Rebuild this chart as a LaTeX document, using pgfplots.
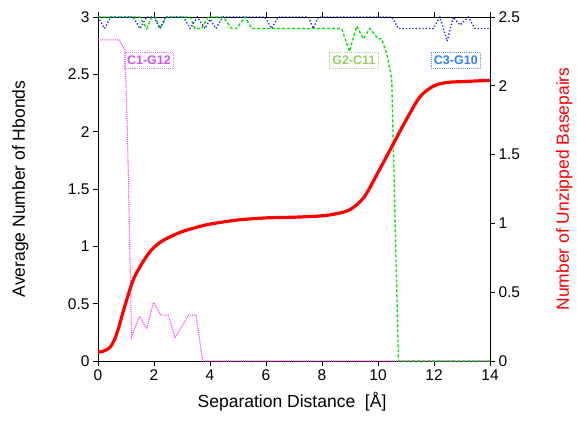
\documentclass[border=0pt]{standalone}
\usepackage{pgfplots}
\pgfplotsset{compat=1.18}
\usepackage{fontspec}
\setmainfont{Liberation Sans}
\usetikzlibrary{calc}

\definecolor{cmag}{HTML}{FF40FF}
\definecolor{cgreen}{HTML}{00E000}
\definecolor{cblue}{HTML}{1020E8}
\definecolor{cred}{HTML}{FF0000}
\definecolor{lmag}{HTML}{CC55EE}
\definecolor{lgreen}{HTML}{99CC66}
\definecolor{lblue}{HTML}{3380F0}

\pgfplotsset{
  common/.style={
    scale only axis, width=392pt, height=344pt,
    xmin=0, xmax=14,
    tick align=outside, major tick length=5pt,
    /pgf/number format/assume math mode=true,
    ticklabel style={font=\fontsize{15.5}{17}\selectfont},
    label style={font=\fontsize{17.5}{20}\selectfont},
    axis line style={line width=0.8pt}, tick style={line width=0.8pt, black},
    clip=false,
  },
}
\tikzset{
  tag/.style={draw=#1!80, densely dotted, line width=0.9pt, text=#1,
    inner xsep=3pt, inner ysep=3.5pt, font=\fontsize{12.5}{14}\selectfont\bfseries},
}

\begin{document}
\begin{tikzpicture}
\begin{axis}[common, name=main,
    ymin=0, ymax=3,
    xtick={0,2,...,14}, ytick={0,0.5,...,3},
    yticklabels={0,0.5,1,1.5,2,2.5,3},
    ytick pos=left,
    xlabel={Separation Distance\ \ [Å]},
    ylabel={Average Number of Hbonds},
    xlabel style={at={(axis description cs:0.495,-0.08)}, anchor=north},
    ylabel style={at={(axis description cs:-0.168,0.5)}, anchor=south, rotate=0},
]
% C1-G12
\addplot[cmag, line width=1.1pt, densely dotted] coordinates {
(0,2.8) (0.76,2.8) (0.96,2.71) (1.05,2.0) (1.2,0.21) (1.48,0.39) (1.74,0.28)
(1.98,0.51) (2.24,0.40) (2.51,0.40) (2.75,0.20) (3.23,0.40) (3.5,0.40)
(3.74,0) (14,0)};
% G2-C11
\addplot[cgreen, line width=1.3pt, densely dashed] coordinates {
(0,3) (1.5,3) (1.74,2.9) (1.92,3) (2.04,3) (2.21,2.9) (2.45,3) (3.29,3)
(3.46,2.9) (3.7,2.9) (3.94,3) (4.48,3) (4.77,2.9) (4.95,2.9) (5.25,3)
(5.49,2.9) (8.7,2.9) (8.98,2.7) (9.24,2.92) (9.48,2.81) (9.71,2.9)
(10.01,2.81) (10.13,2.81) (10.31,2.68) (10.49,2.46) (10.73,0) (14,0)};
% C3-G10
\addplot[cblue, line width=1.3pt, dotted] coordinates {
(0,3) (0.23,2.9) (0.46,3) (1.26,3) (1.5,2.9) (1.74,3) (2.0,3) (2.21,2.9)
(2.42,3) (3.05,3) (3.29,2.9) (3.55,3) (3.82,2.9) (4.0,2.98) (4.21,2.9)
(4.45,3) (5.96,3) (6.2,2.9) (6.44,3) (7.51,3) (7.69,2.9) (7.87,3)
(10.49,3) (10.73,2.9) (11.98,2.9) (12.21,3) (12.47,2.79) (12.69,3)
(12.93,2.93) (13.23,3) (13.46,2.9) (14,2.9)};
\node[tag=lmag] at (axis cs:1.82,2.62) {C1-G12};
\node[tag=lgreen] at (axis cs:9.14,2.62) {G2-C11};
\node[tag=lblue] at (axis cs:12.78,2.62) {C3-G10};
\end{axis}
\begin{axis}[common,
    ymin=0, ymax=2.5,
    axis y line*=right, axis x line=none,
    ytick={0,0.5,...,2.5},
    yticklabels={0,0.5,1,1.5,2,2.5},
    ylabel={Number of Unzipped Basepairs},
    ylabel style={at={(axis description cs:1.16,0.5)}, anchor=north, rotate=0, text=cred},
]
\addplot[cred, line width=3.2pt, smooth] coordinates {
(0,0.065) (0.2,0.072) (0.43,0.10) (0.6,0.16) (0.75,0.25) (0.9,0.36) (1.14,0.52)
(1.3,0.61) (1.5,0.685) (1.7,0.75) (1.92,0.81) (2.2,0.86) (2.5,0.895) (3,0.94)
(3.5,0.97) (4,0.995) (5,1.025) (6,1.04) (7,1.045) (8,1.055) (8.5,1.07)
(9,1.10) (9.5,1.19) (10,1.37) (10.5,1.56) (11,1.75) (11.5,1.92) (12,2.0)
(12.5,2.025) (13,2.03) (13.5,2.035) (14,2.04)};
\end{axis}
\path[use as bounding box] ($(main.south west)+(-98pt,-64pt)$) rectangle ($(main.north east)+(87pt,17pt)$);
\end{tikzpicture}
\end{document}
